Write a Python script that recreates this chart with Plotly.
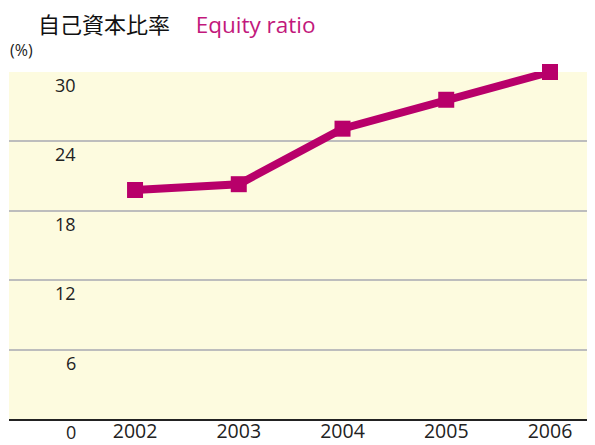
import plotly.graph_objects as go

years = [2002, 2003, 2004, 2005, 2006]
equity_ratio = [19.8, 20.3, 25.1, 27.6, 30.0]
y_ticks = [0, 6, 12, 18, 24, 30]
y_tick_labels = ["0", "6", "12", "18", "24", "30"]

# the page body has an 8px margin; work in page pixels and convert
OFF = 8
W, H = 595 - OFF, 445 - OFF
PL, PR, PT, PB = 9, 595, 72, 419.5   # plot area in page pixels
L = PL - OFF
R = 595 - PR
T = PT - OFF
B = 445 - PB
pw = W - L - R
ph = H - T - B

def px_x(p):
    return (p - OFF - L) / pw

def px_y(p):
    return (H - B - (p - OFF)) / ph

LINE = "#b8006a"
FONT = "'Open Sans', 'Noto Sans CJK JP', sans-serif"

fig = go.Figure()
fig.add_trace(go.Scatter(
    x=years, y=equity_ratio, mode="lines+markers",
    line=dict(color=LINE, width=8),
    marker=dict(symbol="square", size=16, color=LINE),
    cliponaxis=False, showlegend=False, hoverinfo="skip",
))

annotations = []
for v, lab in zip(y_ticks, y_tick_labels):
    annotations.append(dict(
        x=px_x(78), xref="paper", y=v, yref="y", text=lab,
        xanchor="right", yanchor="middle", yshift=-13, showarrow=False,
        font=dict(family=FONT, size=18, color="#222222"),
    ))
annotations.append(dict(
    x=px_x(37), xref="paper", y=px_y(OFF), yref="paper",
    text="<span style='font-size:22px'>自己資本比率</span><span style='font-size:12px'> </span>　<span style='color:#c2187c'>Equity ratio</span>",
    xanchor="left", yanchor="top", showarrow=False, borderpad=0,
    font=dict(family=FONT, size=22.5, color="#111111"),
))
annotations.append(dict(
    x=px_x(8), xref="paper", y=px_y(50), yref="paper", text="(%)",
    xanchor="left", yanchor="middle", showarrow=False,
    font=dict(family=FONT, size=16, color="#222222"),
))

fig.update_layout(
    width=W, height=H,
    margin=dict(l=L, r=R, t=T, b=B, autoexpand=False),
    paper_bgcolor="white", plot_bgcolor="#fdfbdf",
    annotations=annotations,
    xaxis=dict(
        range=[2000.785, 2006.434], tickvals=years, ticktext=[str(y) for y in years],
        showgrid=False, zeroline=False, showline=True, linecolor="#222222", linewidth=1.5,
        ticks="", tickfont=dict(family=FONT, size=19.5, color="#222222"),
        ticklabelstandoff=-6, automargin=False, fixedrange=True,
    ),
    yaxis=dict(
        range=[0, 30], tickvals=y_ticks, showticklabels=False,
        showgrid=True, gridcolor="#bdbdbd", gridwidth=1.5,
        zeroline=False, showline=False, ticks="", automargin=False, fixedrange=True,
    ),
)

fig.write_html("out.html")
